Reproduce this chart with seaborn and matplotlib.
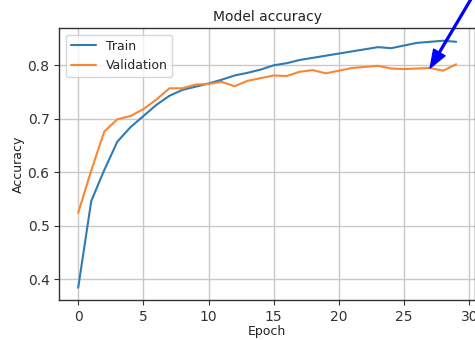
import matplotlib
matplotlib.use("Agg")
import matplotlib.pyplot as plt
import seaborn as sns
import pandas as pd

# Training history of the model
epochs = list(range(30))
train_acc = [0.384, 0.546, 0.604, 0.657, 0.684, 0.705, 0.726, 0.743, 0.754, 0.760,
             0.766, 0.773, 0.781, 0.786, 0.792, 0.800, 0.804, 0.810, 0.814, 0.818,
             0.822, 0.826, 0.830, 0.834, 0.832, 0.837, 0.842, 0.844, 0.846, 0.844]
val_acc = [0.524, 0.603, 0.676, 0.699, 0.705, 0.718, 0.736, 0.757, 0.757, 0.764,
           0.765, 0.769, 0.761, 0.771, 0.776, 0.781, 0.780, 0.788, 0.791, 0.785,
           0.790, 0.795, 0.797, 0.799, 0.794, 0.793, 0.794, 0.795, 0.790, 0.802]
series_names = ["Train", "Validation"]
marked_epoch = 27
marked_value = val_acc[marked_epoch]

sns.set_style("ticks")
plt.rcParams["font.family"] = ["DejaVu Sans"]
plt.rcParams["axes.edgecolor"] = "#333333"
plt.rcParams["xtick.color"] = "#333333"
plt.rcParams["ytick.color"] = "#333333"

fig = plt.figure(figsize=(4.75, 3.4), dpi=100)
ax = fig.add_axes([0.1248, 0.1176, 0.8754, 0.7988])

df = pd.DataFrame({
    "Epoch": epochs * 2,
    "Accuracy": train_acc + val_acc,
    "series": [series_names[0]] * len(epochs) + [series_names[1]] * len(epochs),
})
sns.lineplot(data=df, x="Epoch", y="Accuracy", hue="series",
             palette=["#2f7bb6", "#fa8533"], linewidth=1.5, ax=ax)

ax.set_xlim(-1.45, 30.45)
ax.set_ylim(0.361, 0.869)
ax.set_xticks([0, 5, 10, 15, 20, 25, 30])
ax.set_yticks([0.4, 0.5, 0.6, 0.7, 0.8])
ax.grid(True, color="#c8c8c8", linewidth=1.0)
ax.tick_params(labelsize=10, length=3.5, width=0.8, colors="#333333")
for s in ax.spines.values():
    s.set_linewidth(1.0)

ax.set_title("Model accuracy", fontsize=10, color="#222222", pad=5)
ax.set_xlabel("Epoch", fontsize=9, color="#222222", labelpad=1)
ax.set_ylabel("Accuracy", fontsize=9, color="#222222", labelpad=2)

leg = ax.legend(loc="upper left", fontsize=9, frameon=True)
leg.get_frame().set_edgecolor("#cccccc")

ax.annotate("", xy=(marked_epoch, marked_value), xycoords="data",
            xytext=(474 / 475, 1.0 + 6 / 340), textcoords="figure fraction",
            arrowprops=dict(color="blue", width=1.3, headwidth=9.5, headlength=13),
            annotation_clip=False)

fig.savefig("out.png", dpi=100)
